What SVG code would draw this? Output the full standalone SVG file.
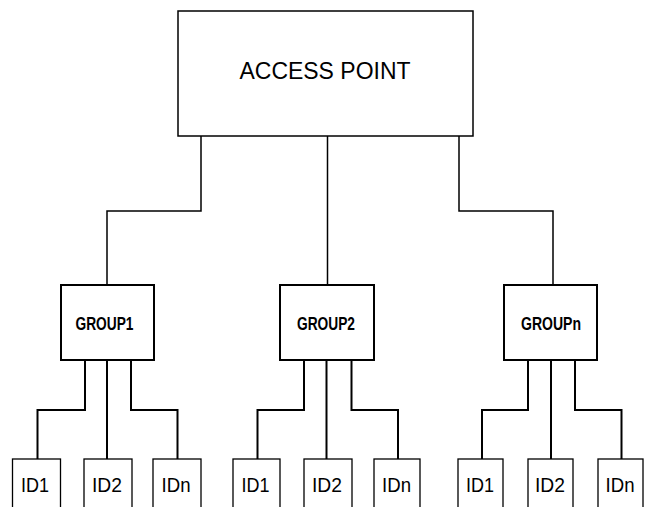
<svg xmlns="http://www.w3.org/2000/svg" width="650" height="507" viewBox="0 0 650 507">
<style>
  .ap { fill: #fff; stroke: #000; stroke-width: 1.5; }
  .grp { fill: #fff; stroke: #000; stroke-width: 2; }
  .id { fill: #fff; stroke: #000; stroke-width: 1.3; }
  .c1 { fill: none; stroke: #000; stroke-width: 1.5; }
  .c2 { fill: none; stroke: #000; stroke-width: 2; }
  .t-ap { font-family: "Liberation Sans", Arial, sans-serif; font-size: 23px; fill: #000; text-anchor: middle; }
  .t-grp { font-family: "Liberation Sans", Arial, sans-serif; font-size: 17.5px; font-weight: bold; fill: #000; text-anchor: middle; }
  .t-id { font-family: "Liberation Sans", Arial, sans-serif; font-size: 21px; fill: #000; text-anchor: middle; }
</style>
<rect width="650" height="507" fill="#fff"/>
<g id="connectors">
  <path class="c1" d="M201,136 V211 H107 V285"/>
  <path class="c1" d="M327.5,136 V285"/>
  <path class="c1" d="M459,136 V211 H553 V285"/>
  <path class="c2" d="M85,360 V410 H37.5 V459"/>
  <path class="c2" d="M107,360 V459"/>
  <path class="c2" d="M131,360 V410 H177.5 V459"/>
  <path class="c2" d="M304,360 V410 H257.5 V459"/>
  <path class="c2" d="M326.5,360 V459"/>
  <path class="c2" d="M351.5,360 V410 H398 V459"/>
  <path class="c2" d="M528,360 V410 H482 V459"/>
  <path class="c2" d="M551,360 V459"/>
  <path class="c2" d="M575,360 V410 H621.5 V459"/>
</g>
<g id="access-point">
  <rect class="ap" x="178" y="11" width="295" height="125"/>
  <text class="t-ap" x="325" y="79" textLength="171" lengthAdjust="spacingAndGlyphs">ACCESS POINT</text>
</g>
<g id="group1">
  <rect class="grp" x="61" y="285" width="93" height="75"/>
  <text class="t-grp" x="104.5" y="330" textLength="58" lengthAdjust="spacingAndGlyphs">GROUP1</text>
</g>
<g id="group2">
  <rect class="grp" x="280" y="285" width="94" height="75"/>
  <text class="t-grp" x="326" y="330" textLength="58" lengthAdjust="spacingAndGlyphs">GROUP2</text>
</g>
<g id="groupn">
  <rect class="grp" x="504" y="285" width="93" height="75"/>
  <text class="t-grp" x="551" y="330" textLength="60" lengthAdjust="spacingAndGlyphs">GROUPn</text>
</g>
<g id="g1-id1"><rect class="id" x="12.5" y="459" width="48" height="60"/><text class="t-id" x="35" y="491.5" textLength="28" lengthAdjust="spacingAndGlyphs">ID1</text></g>
<g id="g1-id2"><rect class="id" x="84" y="459" width="48" height="60"/><text class="t-id" x="107" y="491.5" textLength="30" lengthAdjust="spacingAndGlyphs">ID2</text></g>
<g id="g1-idn"><rect class="id" x="153" y="459" width="48" height="60"/><text class="t-id" x="176" y="491.5" textLength="29" lengthAdjust="spacingAndGlyphs">IDn</text></g>
<g id="g2-id1"><rect class="id" x="233" y="459" width="47" height="60"/><text class="t-id" x="255.5" y="491.5" textLength="28" lengthAdjust="spacingAndGlyphs">ID1</text></g>
<g id="g2-id2"><rect class="id" x="304" y="459" width="48" height="60"/><text class="t-id" x="327" y="491.5" textLength="30" lengthAdjust="spacingAndGlyphs">ID2</text></g>
<g id="g2-idn"><rect class="id" x="374" y="459" width="46" height="60"/><text class="t-id" x="396.5" y="491.5" textLength="29" lengthAdjust="spacingAndGlyphs">IDn</text></g>
<g id="gn-id1"><rect class="id" x="458" y="459" width="45" height="60"/><text class="t-id" x="480" y="491.5" textLength="28" lengthAdjust="spacingAndGlyphs">ID1</text></g>
<g id="gn-id2"><rect class="id" x="528" y="459" width="45" height="60"/><text class="t-id" x="550" y="491.5" textLength="30" lengthAdjust="spacingAndGlyphs">ID2</text></g>
<g id="gn-idn"><rect class="id" x="598" y="459" width="45" height="60"/><text class="t-id" x="620" y="491.5" textLength="29" lengthAdjust="spacingAndGlyphs">IDn</text></g>
</svg>
